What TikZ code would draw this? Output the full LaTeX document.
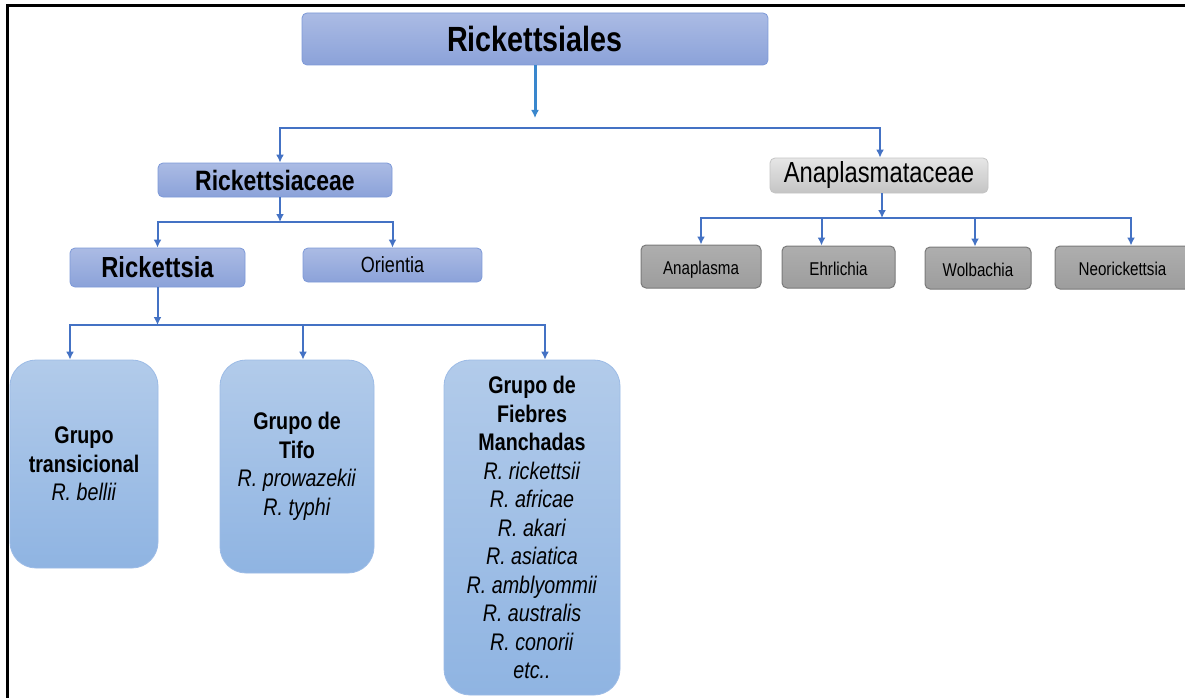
\documentclass[tikz,border=0pt]{standalone}
\usepackage{fontspec}
\setmainfont{Liberation Sans}[FakeStretch=0.82]
\usetikzlibrary{arrows.meta}
\definecolor{linkblue}{HTML}{4472C4}
\definecolor{famtop}{HTML}{ABBBE4}
\definecolor{fambot}{HTML}{8BA2D9}
\definecolor{famedge}{HTML}{7D99D8}
\definecolor{grptop}{HTML}{B2CBEA}
\definecolor{grpbot}{HTML}{8FB4E2}
\definecolor{grpedge}{HTML}{9CBBE6}
\definecolor{anatop}{HTML}{E6E6E6}
\definecolor{anabot}{HTML}{C4C4C4}
\definecolor{genfill}{HTML}{A5A5A5}
\definecolor{genedge}{HTML}{7A7A7A}
\tikzset{
  famnode/.style={draw=famedge, line width=0.8pt, rounded corners=5pt, top color=famtop, bottom color=fambot, inner sep=0pt},
  ananode/.style={draw=anabot, line width=0.8pt, rounded corners=5pt, top color=anatop, bottom color=anabot, inner sep=0pt, font=\fontsize{29}{34}\selectfont},
  gennode/.style={draw=genedge, line width=1pt, rounded corners=5pt, top color=genfill!90!white, bottom color=genfill!95!black, inner sep=0pt, text height=16pt, text depth=0pt, font=\fontsize{18.5}{22}\selectfont},
  grpnode/.style={draw=grpedge, line width=0.8pt, rounded corners=26pt, top color=grptop, bottom color=grpbot, inner sep=0pt, align=center, font=\fontsize{24}{28.5}\selectfont},
  link/.style={draw=linkblue, line width=2pt, -{Latex[length=8pt,width=8pt]}},
}
\begin{document}
\begin{tikzpicture}[x=1pt,y=-1pt]
\clip (0,0) rectangle (1185,698);
\fill[white] (0,0) rectangle (1185,698);
\draw[line width=3pt] (7,698) -- (7,6) -- (1190,6);
% order
\node[famnode, minimum width=466, minimum height=52, font=\fontsize{35}{40}\selectfont\bfseries] (rsl) at (535,39) {Rickettsiales};
% families
\node[famnode, minimum width=234, minimum height=34, font=\fontsize{28}{32}\selectfont\bfseries] (rcc) at (275,180) {Rickettsiaceae};
\node[ananode, minimum width=218, minimum height=35] (ana) at (879,175.5) {Anaplasmataceae};
% genera
\node[famnode, minimum width=175, minimum height=39, font=\fontsize{29}{33}\selectfont\bfseries] (rka) at (157.5,267.5) {Rickettsia};
\node[famnode, minimum width=179, minimum height=34, font=\fontsize{22}{26}\selectfont] (ori) at (392.5,265) {Orientia};
\node[gennode, minimum width=120, minimum height=43] (anp) at (701,266.5) {Anaplasma};
\node[gennode, minimum width=113, minimum height=42] (ehr) at (838.5,267) {Ehrlichia};
\node[gennode, minimum width=106, minimum height=42] (wol) at (978,268) {Wolbachia};
\node[gennode, minimum width=135, minimum height=43] (neo) at (1122.5,267.5) {Neorickettsia};
% groups
\node[grpnode, minimum width=148, minimum height=208] (gtr) at (84,464) {\textbf{Grupo}\\\textbf{transicional}\\\textit{R. bellii}};
\node[grpnode, minimum width=154, minimum height=213] (gti) at (297,466.5) {\textbf{Grupo de}\\\textbf{Tifo}\\\textit{R. prowazekii}\\\textit{R. typhi}};
\node[grpnode, minimum width=176, minimum height=335] (gfm) at (532,527.5) {\textbf{Grupo de}\\\textbf{Fiebres}\\\textbf{Manchadas}\\\textit{R. rickettsii}\\\textit{R. africae}\\\textit{R. akari}\\\textit{R. asiatica}\\\textit{R. amblyommii}\\\textit{R. australis}\\\textit{R. conorii}\\\textit{etc..}};
% connectors
\coordinate (b1) at (535,128);
\coordinate (b2) at (280,222);
\coordinate (b3) at (157.5,325);
\coordinate (b4) at (882,218);
\draw[link, line width=3pt, draw=linkblue!85!cyan] (rsl.south) -- ([yshift=10pt]rsl.south |- b1);
\draw[link] (b1) -| ([xshift=5pt]rcc.north);
\draw[link] (b1) -| ([xshift=1pt]ana.north);
\draw[link] ([xshift=5pt]rcc.south) -- (b2);
\draw[link] (b2) -| (rka.north);
\draw[link] (b2) -| (ori.north);
\draw[link] (rka.south) -- (b3);
\draw[link] (b3) -| ([xshift=-14pt]gtr.north);
\draw[link] (b3) -| ([xshift=6pt]gti.north);
\draw[link] (b3) -| ([xshift=13pt]gfm.north);
\draw[link] ([xshift=3pt]ana.south) -- (b4);
\draw[link] (b4) -| (anp.north);
\draw[link] (b4) -| ([xshift=-17pt]ehr.north);
\draw[link] (b4) -| ([xshift=-3pt]wol.north);
\draw[link] (b4) -| ([xshift=8.5pt]neo.north);
\end{tikzpicture}
\end{document}
